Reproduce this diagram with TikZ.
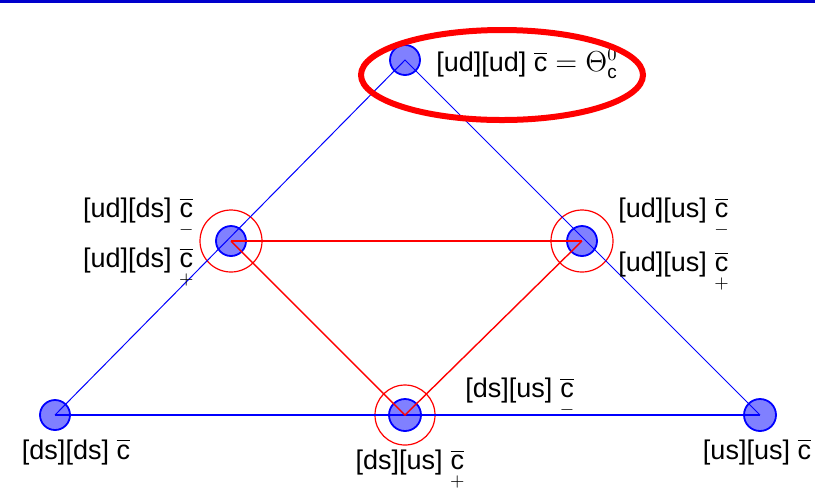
\documentclass[tikz,border=0pt]{standalone}
\usepackage{amsmath,amssymb}
\usepackage{fontspec}
\setmainfont{Liberation Sans}
\usepackage{tikz}
\usetikzlibrary{positioning}
\newcommand{\cb}{\overline{\text{c}}}
\newcommand{\cbm}{$\underset{-}{\cb}$}
\newcommand{\cbp}{$\underset{+}{\cb}$}
\tikzset{
  estado/.style={circle, draw=blue, line width=0.9pt, fill=blue!50, minimum size=#1, inner sep=0pt},
  estado/.default=15pt,
  anel/.style={circle, draw=red, line width=0.6pt, minimum size=#1, inner sep=0pt},
  anel/.default=31pt,
  rotulo/.style={inner sep=1pt, font=\fontsize{13.5}{15}\selectfont},
  lado/.style={draw=blue, line width=0.5pt},
  ligacao/.style={draw=red, line width=0.7pt},
}

\begin{document}
\begin{tikzpicture}[x=0.5pt,y=-0.5pt]
  \useasboundingbox (0,0) rectangle (815,495);
  \fill[blue!80!black] (0,0) rectangle (815,3);

  \node[estado] (uu) at (405,60) {};
  \node[estado] (ll) at (231,241) {};
  \node[estado] (rr) at (582,241) {};
  \node[estado] (dd) at (55,415) {};
  \node[estado=16pt] (bm) at (405,415) {};
  \node[estado=16pt] (ss) at (760,415) {};

  \node[anel] (a1) at (ll) {};
  \node[anel] (a2) at (rr) {};
  \node[anel=30pt] (a3) at (bm) {};

  \draw[lado] (dd.center) -- (uu.center) -- (ss.center);
  \draw[lado, line width=0.9pt] (dd.center) -- (ss.center);
  \draw[ligacao] (ll.center) -- (rr.center);
  \draw[ligacao] (ll.center) -- (bm.center) -- (rr.center);

  \node[rotulo, anchor=west] (t1) at (434,64) {[ud][ud] $\cb = \Theta^{0}_{\text{c}}$};
  \node[rotulo, anchor=east] (t2) at (196,218) {[ud][ds] \cbm};
  \node[rotulo, anchor=east] (t3) at (196,268) {[ud][ds] \cbp};
  \node[rotulo, anchor=west] (t4) at (616,218) {[ud][us] \cbm};
  \node[rotulo, anchor=west] (t5) at (616,272) {[ud][us] \cbp};
  \node[rotulo, anchor=west] (t6) at (463,398) {[ds][us] \cbm};
  \node[rotulo] (t7) at (410,470) {[ds][us] \cbp};
  \node[rotulo] (t8) at (76,452) {[ds][ds] $\cb$};
  \node[rotulo] (t9) at (757,452) {[us][us] $\cb$};

  \draw[red, line width=3pt] (502,75) ellipse [x radius=141, y radius=45];
\end{tikzpicture}
\end{document}
